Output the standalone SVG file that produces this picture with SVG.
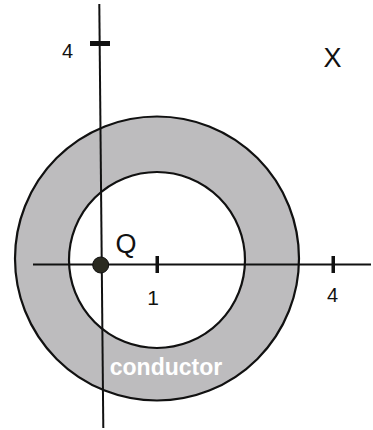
<svg xmlns="http://www.w3.org/2000/svg" width="373" height="430" viewBox="0 0 373 430">
<style>
.ln{stroke:#111;fill:none}
.lbl{font-family:"Liberation Sans",Arial,sans-serif;fill:#111}
.tick{fill:#111}
</style>
<rect width="373" height="430" fill="#fff"/>
<g id="conductor">
<circle cx="157" cy="258.5" r="142" fill="#bdbcbe" stroke="#111" stroke-width="2.2"/>
<circle cx="157" cy="260" r="88" fill="#fff" stroke="#111" stroke-width="2.2"/>
<text class="lbl" x="166" y="375" font-size="23" font-weight="bold" text-anchor="middle" style="fill:#fff">conductor</text>
</g>
<g id="axes">
<line class="ln" x1="99.3" y1="4" x2="103.3" y2="428" stroke-width="2"/>
<line class="ln" x1="33" y1="264.5" x2="371" y2="264.5" stroke-width="2"/>
<rect class="tick" x="90" y="41" width="20" height="5"/>
<rect class="tick" x="155.5" y="256" width="3.5" height="17"/>
<rect class="tick" x="331.5" y="256" width="3.5" height="17"/>
<text class="lbl" x="67.5" y="58" font-size="20" text-anchor="middle">4</text>
<text class="lbl" x="153" y="305" font-size="21" text-anchor="middle">1</text>
<text class="lbl" x="332.5" y="302" font-size="20" text-anchor="middle">4</text>
</g>
<g id="charge">
<circle cx="100.7" cy="265" r="8" fill="#2a2a20" stroke="#111" stroke-width="1"/>
<text class="lbl" x="126" y="253" font-size="27" text-anchor="middle">Q</text>
</g>
<g id="label-x">
<text class="lbl" x="332.5" y="67" font-size="27" text-anchor="middle">X</text>
</g>
</svg>
